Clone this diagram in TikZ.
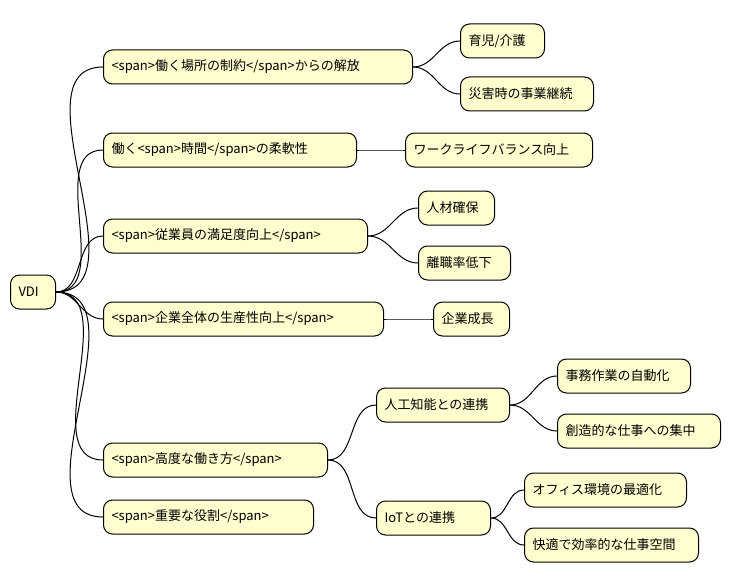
\documentclass[tikz,border=0pt]{standalone}
\usepackage{fontspec}
\setmainfont{Noto Sans CJK JP}
\usetikzlibrary{positioning}
\definecolor{ivory}{HTML}{FEFECE}
\tikzset{link/.style={line width=0.6pt, out=0, in=180}}

\begin{document}
\begin{tikzpicture}[x=1pt, y=-1pt, line width=1pt,
    idea/.style={rectangle, rounded corners=9pt, draw=black, fill=ivory, anchor=west,
      minimum height=34pt, inner xsep=8pt, align=left, font=\fontsize{13}{15}\selectfont},
    w/.style={text width=#1pt}]
    \useasboundingbox (0,0) rectangle (730,583);

    % Root
    \node[idea, w=29] (vdi) at (10,292) {VDI};

    % First level
    \node[idea, w=293] (place) at (103,67) {<span>働く場所の制約</span>からの解放};
    \node[idea, w=237] (time) at (103,150) {働く<span>時間</span>の柔軟性};
    \node[idea, w=248] (staff) at (103,236) {<span>従業員の満足度向上</span>};
    \node[idea, w=264] (prod) at (103,319) {<span>企業全体の生産性向上</span>};
    \node[idea, w=208] (adv) at (103,460) {<span>高度な働き方</span>};
    \node[idea, w=194] (role) at (103,517) {<span>重要な役割</span>};

    % Second level
    \node[idea, w=68] (care) at (460,41) {育児/介護};
    \node[idea, w=117] (bcp) at (460,94) {災害時の事業継続};
    \node[idea, w=171] (wlb) at (405,150) {ワークライフバランス向上};
    \node[idea, w=60] (hire) at (418,208) {人材確保};
    \node[idea, w=76] (quit) at (418,263) {離職率低下};
    \node[idea, w=60] (grow) at (433,319) {企業成長};
    \node[idea, w=117] (ai) at (376,405) {人工知能との連携};
    \node[idea, w=98] (iot) at (376,518) {IoTとの連携};

    % Third level
    \node[idea, w=117] (auto) at (557,376) {事務作業の自動化};
    \node[idea, w=147] (focus) at (557,431) {創造的な仕事への集中};
    \node[idea, w=146] (office) at (524,490) {オフィス環境の最適化};
    \node[idea, w=158] (space) at (524,545) {快適で効率的な仕事空間};

    % Links
    \foreach \child in {place,time,staff,prod,adv,role}
      \draw (vdi.east) to[link] (\child.west);
    \draw (place.east) to[link] (care.west);
    \draw (place.east) to[link] (bcp.west);
    \draw (time.east) to[link] (wlb.west);
    \draw (staff.east) to[link] (hire.west);
    \draw (staff.east) to[link] (quit.west);
    \draw (prod.east) to[link] (grow.west);
    \draw (adv.east) to[link] (ai.west);
    \draw (adv.east) to[link] (iot.west);
    \draw (ai.east) to[link] (auto.west);
    \draw (ai.east) to[link] (focus.west);
    \draw (iot.east) to[link] (office.west);
    \draw (iot.east) to[link] (space.west);
\end{tikzpicture}
\end{document}
